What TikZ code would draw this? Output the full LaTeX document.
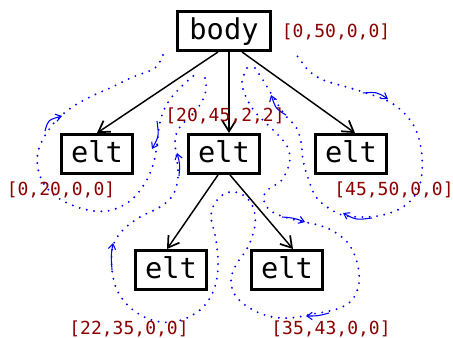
\documentclass[tikz,border=0pt]{standalone}
\usepackage{fontspec}
\setmonofont{DejaVu Sans Mono}
\usetikzlibrary{arrows.meta}
\definecolor{lab}{RGB}{139,0,0}
\begin{document}
\begin{tikzpicture}[x=0.75pt,y=-0.75pt,
  box/.style={draw, line width=2.2pt, minimum height=29.25pt, inner sep=0pt,
    font=\ttfamily\fontsize{21.5}{21.5}\selectfont, text height=13pt, text depth=0pt},
  edge/.style={line width=1.1pt, -{Straight Barb[length=8pt,width=10pt,line width=1.3pt]}},
  trail/.style={blue, line width=1.6pt, line cap=round, dash pattern=on 0pt off 5.5pt},
  tick/.style={blue, line width=0.8pt, -{Straight Barb[length=4pt,width=5.5pt]}},
  lbl/.style={text=lab, font=\ttfamily\fontsize{13.5}{13.5}\selectfont, inner sep=0pt}]
\useasboundingbox (0,0) rectangle (453,338);

\node[box, minimum width=69.75pt] (body) at (224,31) {body};
\node[box, minimum width=53.25pt] (e1) at (97,154) {elt};
\node[box, minimum width=53.25pt] (e2) at (224,154) {elt};
\node[box, minimum width=53.25pt] (e3) at (351,154) {elt};
\node[box, minimum width=53.25pt] (e4) at (171,270) {elt};
\node[box, minimum width=53.25pt] (e5) at (287,270) {elt};

\draw[edge] ([xshift=-4.5pt]body.south) -- (e1.north);
\draw[edge] ([xshift=3.75pt]body.south) -- ([xshift=3.75pt]e2.north);
\draw[edge] ([xshift=13.5pt]body.south) -- ([xshift=3pt]e3.north);
\draw[edge] ([xshift=-4.5pt]e2.south) -- ([xshift=-3pt]e4.north);
\draw[edge] ([xshift=4.5pt]e2.south) -- ([xshift=4.5pt]e5.north);

% traversal around elt1
\draw[trail] plot[smooth, tension=0.6] coordinates {(163,55) (155,68) (133,77) (110,88) (88,98) (68,110) (50,128) (38,152) (40,176) (54,195) (80,208) (107,211) (130,201) (145,183) (153,165) (157,145) (160,122) (167,104) (180,88) (198,72)};
% traversal around elt2 subtree
\draw[trail] plot[smooth, tension=0.6] coordinates {(205,78) (206,90) (200,105) (188,118) (178,130) (175,142) (177,160) (178,178) (173,195) (160,207) (140,217) (123,230) (113,246) (112,270) (118,292) (133,310) (155,321) (178,321) (200,310) (213,292) (218,268) (216,240) (211,215) (218,199) (230,192) (243,195) (253,207) (255,225) (248,247) (236,265) (231,280) (235,295) (248,307) (268,316) (290,318) (313,314) (337,309) (352,300) (359,283) (357,262) (348,243) (333,231) (318,225) (295,220) (274,213) (265,204) (264,195) (270,188) (281,181) (288,168) (290,157) (287,146) (280,137) (268,125) (255,112) (246,97) (242,82) (247,68)};
% traversal around elt3
\draw[trail] plot[smooth, tension=0.6] coordinates {(255,68) (263,80) (272,95) (285,115) (296,127) (301,142) (303,160) (308,178) (316,197) (330,209) (347,216) (378,216) (403,207) (417,192) (422,172) (421,148) (415,128) (404,113) (388,101) (363,92) (343,86) (323,80) (309,71) (301,61) (295,53)};

\draw[tick] (45,131) .. controls (48,120) .. (62,116);
\draw[tick] (157,121) .. controls (159,136) .. (152,149);
\draw[tick] (179,176) .. controls (180,164) .. (177,153);
\draw[tick] (286,115) .. controls (276,109) .. (271,95);
\draw[tick] (363,93) .. controls (377,92) .. (388,99);
\draw[tick] (372,218) .. controls (356,220) .. (343,213);
\draw[tick] (282,217) .. controls (294,218) .. (305,222);
\draw[tick] (112,270) .. controls (111,255) .. (113,243);
\draw[tick] (329,313) .. controls (318,316) .. (306,316);

\node[lbl] (l1) at (336,32) {[0,50,0,0]};
\node[lbl] (l2) at (225,116) {[20,45,2,2]};
\node[lbl] (l3) at (61,190) {[0,20,0,0]};
\node[lbl] (l4) at (394,190) {[45,50,0,0]};
\node[lbl] (l5) at (129,329) {[22,35,0,0]};
\node[lbl] (l6) at (331,329) {[35,43,0,0]};
\end{tikzpicture}
\end{document}
